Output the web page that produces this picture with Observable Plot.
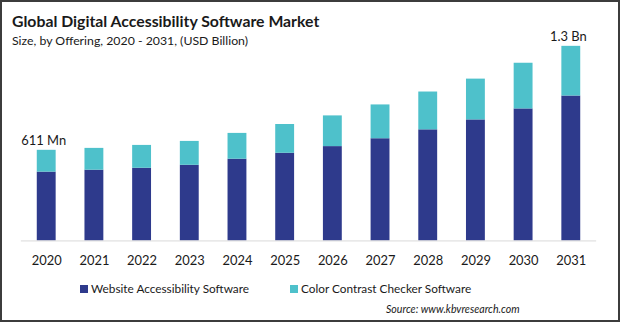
<!DOCTYPE html>
<html>
<head>
<meta charset="utf-8">
<script src="https://cdn.jsdelivr.net/npm/d3@7"></script>
<script src="https://cdn.jsdelivr.net/npm/@observablehq/plot@0.6"></script>
<style>
  html, body { margin: 0; padding: 0; background: #fff; }
  #frame { position: relative; width: 620px; height: 322px; box-sizing: border-box; border: 2px solid #3c3c3c; overflow: hidden; font-family: Lato, "Open Sans", sans-serif; color: #1a1a1a; }
  #title { position: absolute; left: 10px; top: 9px; font-size: 15.8px; font-weight: 700; white-space: nowrap; }
  #subtitle { position: absolute; left: 10px; top: 31px; font-size: 12.3px; white-space: nowrap; }
  #chart { position: absolute; left: -2px; top: -2px; }
  .leg { position: absolute; top: 279px; font-size: 11.8px; white-space: nowrap; display: flex; align-items: center; }
  .sw { width: 8px; height: 8px; margin-right: 3px; display: inline-block; }
  #source { position: absolute; left: 384px; top: 301px; font-size: 10.6px; font-style: italic; white-space: nowrap; }
</style>
</head>
<body>
<div id="frame">
  <div id="chart"></div>
  <div id="title">Global Digital Accessibility Software Market</div>
  <div id="subtitle">Size, by Offering, 2020 - 2031, (USD Billion)</div>
  <div class="leg" id="leg1" style="left:78px"><span class="sw" style="background:#2e3a8c"></span>Website Accessibility Software</div>
  <div class="leg" id="leg2" style="left:288px"><span class="sw" style="background:#4ec1cb"></span>Color Contrast Checker Software</div>
  <div id="source">Source: www.kbvresearch.com</div>
</div>
<script>
const years = ["2020","2021","2022","2023","2024","2025","2026","2027","2028","2029","2030","2031"];
const seriesNames = ["Website Accessibility Software", "Color Contrast Checker Software"];
const website = [0.464, 0.477, 0.490, 0.510, 0.551, 0.591, 0.636, 0.689, 0.749, 0.816, 0.890, 0.977];
const colorContrast = [0.147, 0.147, 0.154, 0.161, 0.174, 0.194, 0.207, 0.228, 0.255, 0.275, 0.308, 0.335];
const seriesColors = ["#2e3a8c", "#4ec1cb"];
const endLabels = [{year: "2020", text: "611 Mn"}, {year: "2031", text: "1.3 Bn"}];

const rows = [];
years.forEach((y, i) => {
  rows.push({year: y, series: seriesNames[0], value: website[i]});
  rows.push({year: y, series: seriesNames[1], value: colorContrast[i]});
});
const totals = new Map(years.map((y, i) => [y, website[i] + colorContrast[i]]));
const labelRows = endLabels.map(d => ({...d, total: totals.get(d.year)}));

const chart = Plot.plot({
  width: 622,
  height: 275,
  marginLeft: 21,
  marginRight: 22,
  marginTop: 33,
  marginBottom: 33,
  style: {fontFamily: "Lato, 'Open Sans', sans-serif", fontSize: "13px", color: "#1a1a1a", background: "transparent"},
  x: {domain: years, paddingInner: 0.6, paddingOuter: 0.3, label: null, tickSize: 0, tickPadding: 15},
  y: {domain: [0, 1.4], axis: null},
  color: {domain: seriesNames, range: seriesColors},
  marks: [
    Plot.barY(rows, {x: "year", y: "value", fill: "series", order: seriesNames}),
    Plot.ruleY([0], {stroke: "#d9d9d9", strokeWidth: 1}),
    Plot.text(labelRows, {x: "year", y: "total", text: "text", dy: -10, dx: -3, fontSize: 13, fill: "#1a1a1a"})
  ]
});
document.getElementById("chart").appendChild(chart);
</script>
</body>
</html>
